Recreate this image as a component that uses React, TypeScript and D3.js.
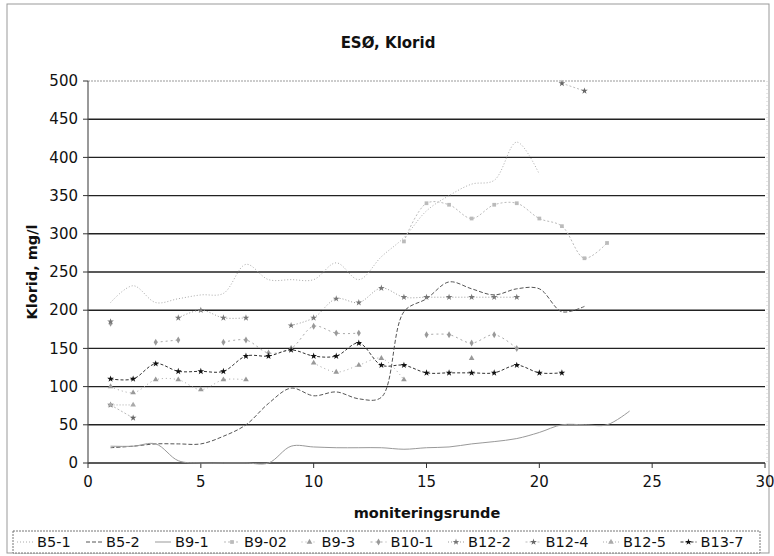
import * as d3 from 'd3'

// monitoring rounds (x) and chloride values (mg/l)
const rounds = [1, 2, 3, 4, 5, 6, 7, 8, 9, 10, 11, 12, 13, 14, 15, 16, 17, 18, 19, 20, 21, 22, 23, 24]

const b5_1 = [210, 232, 210, 215, 220, 222, 260, 240, 240, 240, 262, 240, 270, 295, 330, 350, 365, 370, 420, 378, null, null, null, null]
const b5_2 = [20, 22, 25, 25, 25, 35, 50, 78, 98, 88, 93, 84, 86, 198, 215, 237, 228, 220, 228, 228, 198, 205, null, null]
const b9_1 = [22, 22, 25, 3, 0, 0, 0, 0, 22, 21, 20, 20, 20, 18, 20, 21, 25, 28, 32, 40, 50, 50, 50, 68]
const b9_02 = [null, null, null, null, null, null, null, null, null, null, null, null, null, 290, 340, 338, 320, 338, 340, 320, 310, 268, 288, null]
const b9_3 = [100, 92, 109, 109, 96, 109, 109, null, null, 131, 119, 128, 137, 109, null, null, 137, null, null, null, null, null, null, null]
const b10_1 = [183, null, 158, 161, null, 158, 161, 144, 150, 179, 170, 170, null, null, 168, 168, 157, 168, 150, null, null, null, null, null]
const b12_2 = [185, null, null, 190, 200, 190, 190, null, 180, 190, 215, 210, 229, 217, 217, 217, 217, 217, 217, null, null, null, null, null]
const b12_4 = [76, 59, null, null, null, null, null, null, null, null, null, null, null, null, null, null, null, null, null, null, 497, 487, null, null]
const b12_5 = [76, 76, null, null, null, null, null, null, null, null, null, null, null, null, null, null, null, null, null, null, null, null, null, null]
const b13_7 = [110, 110, 130, 120, 120, 120, 140, 140, 148, 140, 140, 157, 128, 128, 118, 118, 118, 118, 128, 118, 118, null, null, null]

const seriesNames = ['B5-1', 'B5-2', 'B9-1', 'B9-02', 'B9-3', 'B10-1', 'B12-2', 'B12-4', 'B12-5', 'B13-7']
const seriesValues = [b5_1, b5_2, b9_1, b9_02, b9_3, b10_1, b12_2, b12_4, b12_5, b13_7]

const yTicks = [0, 50, 100, 150, 200, 250, 300, 350, 400, 450, 500]
const xTicks = [0, 5, 10, 15, 20, 25, 30]

// grey scan look: one style per series
const styles = [
  { stroke: '#aaa', dash: '1,2', symbol: null, fill: '#aaa' },
  { stroke: '#555', dash: '4,2', symbol: null, fill: '#555' },
  { stroke: '#999', dash: '', symbol: null, fill: '#999' },
  { stroke: '#bbb', dash: '2,2', symbol: d3.symbolSquare, fill: '#bbb' },
  { stroke: '#aaa', dash: '1,3', symbol: d3.symbolTriangle, fill: '#999' },
  { stroke: '#aaa', dash: '2,3', symbol: d3.symbolDiamond, fill: '#999' },
  { stroke: '#999', dash: '1,2', symbol: d3.symbolStar, fill: '#777' },
  { stroke: '#bbb', dash: '2,2', symbol: d3.symbolStar, fill: '#666' },
  { stroke: '#aaa', dash: '1,2', symbol: d3.symbolTriangle, fill: '#aaa' },
  { stroke: '#333', dash: '3,2', symbol: d3.symbolStar, fill: '#111' },
]

const FONT = '"DejaVu Sans", Verdana, sans-serif'

export default function App() {
  const W = 774, H = 556
  const left = 88, right = 765, top = 81, bottom = 463

  const x = d3.scaleLinear().domain([0, 30]).range([left, right])
  const y = d3.scaleLinear().domain([0, 500]).range([bottom, top])

  const line = d3.line<[number, number | null]>()
    .defined(d => d[1] != null)
    .x(d => x(d[0]))
    .y(d => y(d[1] as number))
    .curve(d3.curveCatmullRom.alpha(0.5))

  // legend layout: sample, text, gap
  let cursor = 37
  const legendItems = seriesNames.map((name, i) => {
    const textX = cursor
    cursor += name.length * 8.5 + 35
    return { name, i, textX }
  })

  return (
    <svg width={W} height={H} style={{ position: 'absolute', left: 0, top: 0, background: '#fff' }} fontFamily={FONT}>
      <rect x={7} y={4} width={762} height={549} fill="none" stroke="#999" strokeWidth={1} />

      <text x={388} y={48} textAnchor="middle" fontSize={15} fontWeight="bold" fill="#111">ESØ, Klorid</text>

      {/* gridlines */}
      {yTicks.filter(t => t > 0).map(t => (
        <line key={t} x1={left} x2={right} y1={y(t)} y2={y(t)}
          stroke={t === 500 ? '#999' : '#222'} strokeWidth={t === 500 ? 1 : 1.4}
          strokeDasharray={t === 500 ? '2,1' : ''} />
      ))}
      {/* axes */}
      <line x1={left} x2={right} y1={bottom} y2={bottom} stroke="#222" strokeWidth={1.4} />
      <line x1={left} x2={left} y1={top} y2={bottom} stroke="#555" strokeWidth={1.2} />
      <line x1={right + 2} x2={right + 2} y1={top} y2={bottom} stroke="#ccc" strokeWidth={1} strokeDasharray="1,3" />

      {yTicks.map(t => (
        <g key={t}>
          <line x1={left - 5} x2={left} y1={y(t)} y2={y(t)} stroke="#333" />
          <text x={left - 10} y={y(t)} dy="0.35em" textAnchor="end" fontSize={15} fill="#111">{t}</text>
        </g>
      ))}
      {xTicks.map(t => (
        <g key={t}>
          <line x1={x(t)} x2={x(t)} y1={bottom} y2={bottom + 5} stroke="#333" />
          <text x={x(t)} y={bottom + 24} textAnchor="middle" fontSize={15} fill="#111">{t}</text>
        </g>
      ))}

      <text x={427} y={518} textAnchor="middle" fontSize={14.5} fontWeight="bold" fill="#111">moniteringsrunde</text>
      <text transform={`translate(37,${(top + bottom) / 2}) rotate(-90)`} textAnchor="middle" fontSize={14.5} fontWeight="bold" fill="#111">Klorid, mg/l</text>

      {/* series */}
      {seriesValues.map((vals, i) => {
        const pts = rounds.map((r, k) => [r, vals[k]] as [number, number | null])
        const st = styles[i]
        const sym = st.symbol ? d3.symbol().type(st.symbol).size(14)() : null
        return (
          <g key={seriesNames[i]}>
            <path d={line(pts) || ''} fill="none" stroke={st.stroke} strokeWidth={1} strokeDasharray={st.dash} />
            {sym && pts.filter(p => p[1] != null).map(p => (
              <path key={p[0]} d={sym} transform={`translate(${x(p[0])},${y(p[1] as number)})`} fill={st.fill} />
            ))}
          </g>
        )
      })}

      {/* legend */}
      <rect x={13} y={531} width={747} height={22} fill="#fff" stroke="#777" strokeWidth={1} strokeDasharray="2,1" />
      {legendItems.map(({ name, i, textX }) => {
        const st = styles[i]
        const sym = st.symbol ? d3.symbol().type(st.symbol).size(14)() : null
        return (
          <g key={name}>
            <line x1={textX - 20} x2={textX - 4} y1={542} y2={542} stroke={st.stroke} strokeDasharray={st.dash} />
            {sym && <path d={sym} transform={`translate(${textX - 12},542)`} fill={st.fill} />}
            <text x={textX} y={547} fontSize={14.5} fill="#111">{name}</text>
          </g>
        )
      })}
    </svg>
  )
}
